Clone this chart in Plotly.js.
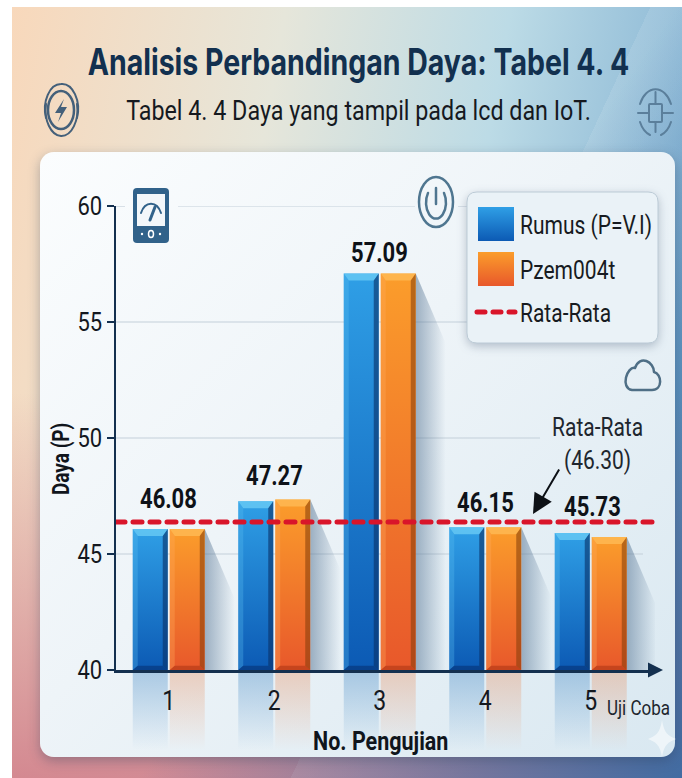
<!DOCTYPE html>
<html><head><meta charset="utf-8">
<script src="https://cdn.plot.ly/plotly-3.0.1.min.js"></script>
<style>
html,body{margin:0;padding:0;background:#fff;width:682px;height:778px;overflow:hidden}
#bg{position:absolute;left:12px;top:7px;width:670px;height:771px;
background:
 linear-gradient(115deg,rgba(255,255,255,0) 62%,rgba(255,255,255,.10) 62%,rgba(255,255,255,0) 80%),
 linear-gradient(180deg,rgba(250,220,190,0) 50%,rgba(205,115,130,.8) 100%) ,
 linear-gradient(100deg,#f8d8bb 0%,#e6e6da 34%,#bcdbe6 62%,#8db9d6 85%,#5f97c0 100%);}
#bg2{position:absolute;left:12px;top:7px;width:670px;height:771px;
background:linear-gradient(125deg,rgba(60,110,170,0) 55%,rgba(45,105,165,.85) 100%)}
#card{position:absolute;left:40px;top:152px;width:635px;height:605px;border-radius:14px;
background:linear-gradient(135deg,#fbfdfe 0%,#eef4f8 45%,#d9e8f1 100%);box-shadow:0 4px 12px rgba(40,60,90,.35)}
#chart{position:absolute;left:0;top:0;width:682px;height:778px}
#deco{position:absolute;left:0;top:0;pointer-events:none}
</style></head><body>
<div id="bg"></div><div id="bg2"></div><div id="card"></div>
<div id="chart"></div>
<svg id="deco" width="682" height="778" fill="none" stroke-linecap="round" stroke-linejoin="round">
 <!-- lightning -->
 <g stroke="#44607a" stroke-width="2.5">
  <ellipse cx="61" cy="110" rx="13" ry="19"/>
  <path d="M46 118 A16 25 0 0 1 61 84 A16 25 0 0 1 77 118" stroke-width="2"/>
  <path d="M46 104 A16 26 0 0 0 61 136 A16 26 0 0 0 77 104" stroke-width="2"/>
 </g>
 <path d="M64 99 L55 113 H61 L58 122 L67 107 H61 Z" fill="#44607a"/>
 <!-- circuit -->
 <g stroke="#5b7f9b" stroke-width="2">
  <path d="M640 104 A17 25 0 0 1 671 104"/><path d="M640 122 A17 25 0 0 0 650 135"/><path d="M671 122 A17 25 0 0 1 661 135"/>
  <rect x="649" y="104" width="13" height="18" rx="1"/>
  <path d="M655.500 92 V104 M655.500 122 V132 M638 113 H649 M662 113 H673"/>
 </g>
 <!-- gauge -->
 <rect x="133" y="188" width="36" height="55" rx="4" fill="#31628a"/>
 <rect x="137" y="194" width="28" height="32" fill="#f3f7fa"/>
 <path d="M141 213 A11 16 0 0 1 161 213" stroke="#31628a" stroke-width="2"/>
 <path d="M150 220 L155 207" stroke="#31628a" stroke-width="3"/>
 <ellipse cx="151" cy="234" rx="2.500" ry="3.500" stroke="#fff" stroke-width="1.500"/>
 <circle cx="142" cy="234" r="1.200" fill="#fff"/><circle cx="160" cy="234" r="1.200" fill="#fff"/>
 <!-- power -->
 <g stroke="#4f7690">
  <ellipse cx="436" cy="202" rx="17" ry="25" stroke-width="2.500"/>
  <path d="M428 193 A10 16 0 1 0 444 193" stroke-width="2.500"/>
  <path d="M436 188 V204" stroke-width="2.500"/>
 </g>
 <!-- cloud -->
 <path d="M632 390 H652 C663 390 662 374 654 372 C654 362 640 354 635 368 C627 366 620 388 632 390 Z" stroke="#4f6f86" stroke-width="2.500"/>
 <!-- sparkle -->
 <path d="M662 720 C664 733 668 736 676 739 C668 742 664 745 662 757 C660 745 656 742 648 739 C656 736 660 733 662 720 Z" fill="rgba(255,255,255,.55)"/>
</svg>
<script>
// ---- data ----
var categories = [1, 2, 3, 4, 5];
var rumus = [46.08, 47.27, 57.09, 46.15, 45.90];
var pzem  = [46.08, 47.35, 57.09, 46.15, 45.73];
var barLabels = ["46.08", "47.27", "57.09", "46.15", "45.73"];
var labelShift = [30, 24, 21, 25, 27];
var meanLevel = 46.38;
var yTicks = [40, 45, 50, 55, 60];
var xTitle = "No. Pengujian", yTitle = "Daya (P)";
var seriesNames = ["Rumus (P=V.I)", "Pzem004t", "Rata-Rata"];
var gridSegments = [[60,116,125],[60,178,415],[60,458,468],[55,116,470],[50,116,540],[45,116,643]];
// ------------------------------------

var W=682,H=778,mL=116,mR=27,mT=206,mB=108;
var xMin=0.5,xMax=0.5+(W-mL-mR)/105.5,baseY=40;
var pxX=1/105.5,pxY=1/23.2,barW=35*pxX,off=18.5*pxX;
function px2x(p){return xMin+(p-mL)*pxX;}
function px2px(p){return (p-mL)/(W-mL-mR);}
function px2py(p){return (H-mB-p)/(H-mT-mB);}
var font='Roboto, sans-serif',ink='#14181f',navy='#14304f';

function faces(vals,dx,kind){
  var X=[],Y=[],i=5*pxX,t=7*pxY;
  vals.forEach(function(v,k){
    var l=categories[k]+dx-barW/2,r=l+barW,pts;
    if(kind==='top')   pts=[[l,v],[r,v],[r-i,v-t],[l+i,v-t]];
    if(kind==='right') pts=[[r,v],[r,baseY],[r-i,baseY+t*.6],[r-i,v-t]];
    if(kind==='left')  pts=[[l,v],[l,baseY],[l+i,baseY+t*.6],[l+i,v-t]];
    if(kind==='bottom')pts=[[l,baseY],[r,baseY],[r-i,baseY+t*.6],[l+i,baseY+t*.6]];
    pts.concat([pts[0]]).forEach(function(p){X.push(p[0]);Y.push(p[1]);});
    X.push(null);Y.push(null);
  });
  return {x:X,y:Y};
}
function faceTrace(vals,dx,kind,color){
  var f=faces(vals,dx,kind);
  return {type:'scatter',mode:'lines',x:f.x,y:f.y,fill:'toself',fillcolor:color,
    line:{width:0,color:color},showlegend:false,hoverinfo:'skip'};
}
var traces=[
 {type:'bar',name:seriesNames[0],x:categories.map(function(c){return c-off;}),y:rumus,width:barW,marker:{color:'#1c7fd0'}},
 {type:'bar',name:seriesNames[1],x:categories.map(function(c){return c+off;}),y:pzem,width:barW,marker:{color:'#f5822a'}},
 faceTrace(rumus,-off,'top','rgba(110,205,245,.75)'),
 faceTrace(rumus,-off,'right','rgba(10,50,105,.62)'),
 faceTrace(rumus,-off,'left','rgba(90,190,240,.32)'),
 faceTrace(rumus,-off,'bottom','rgba(5,45,110,.55)'),
 faceTrace(pzem,off,'top','rgba(255,190,90,.72)'),
 faceTrace(pzem,off,'right','rgba(130,60,10,.55)'),
 faceTrace(pzem,off,'left','rgba(255,170,90,.35)'),
 faceTrace(pzem,off,'bottom','rgba(150,40,10,.42)'),
 {type:'scatter',mode:'lines',name:seriesNames[2],x:[xMin,px2x(652)],y:[meanLevel,meanLevel],
  line:{color:'#d9152a',width:5,dash:'9px,8px'},hoverinfo:'skip'}
];

var shapes=[],gradShapes=[];
gridSegments.forEach(function(g){
  shapes.push({type:'line',layer:'below',xref:'x',yref:'y',x0:px2x(g[1]),x1:px2x(g[2]),y0:g[0],y1:g[0],line:{color:'#c3cfd9',width:1.2}});
});
categories.forEach(function(c,k){
  var r=c+off+barW/2,v=pzem[k];
  shapes.push({type:'path',layer:'between',xref:'x',yref:'y',line:{width:0},fillcolor:'#5a7896',
   path:'M'+r+','+v+' L'+(r+30*pxX)+','+(v-70*pxY)+' L'+(r+30*pxX)+','+baseY+' L'+r+','+baseY+' Z'});
  gradShapes.push([shapes.length-1,'gShadow']);
});
categories.forEach(function(c,k){
  [[-off,'gReflB'],[off,'gReflO']].forEach(function(s){
    var l=c+s[0]-barW/2;
    shapes.push({type:'rect',layer:'below',xref:'x',yref:'paper',x0:l,x1:l+barW,y0:0,y1:px2py(750),line:{width:0},fillcolor:'#888'});
    gradShapes.push([shapes.length-1,s[1]]);
  });
});
shapes.push({type:'rect',layer:'above',xref:'paper',yref:'paper',x0:px2px(467),x1:px2px(658),y0:px2py(343),y1:px2py(192),
  line:{color:'#bccbd6',width:1},fillcolor:'#eaf2f7'});
var panelIndex=shapes.length-1;

var annotations=categories.map(function(c,k){
  return {x:c+(k===4?2*pxX:0),y:Math.max(rumus[k],pzem[k]),xref:'x',yref:'y',text:barLabels[k],showarrow:false,xanchor:'center',yanchor:'middle',yshift:labelShift[k],
    font:{family:font,size:22,color:'#0e1218',weight:700}};
});
function note(x,y,text,f,extra){
  var a={xref:'paper',yref:'paper',x:px2px(x),y:px2py(y),text:text,showarrow:false,xanchor:'center',yanchor:'middle',font:f};
  for(var k in (extra||{}))a[k]=extra[k];
  return a;
}
annotations.push(
 note(597,443,'Rata-Rata<br>(46.30)',{family:font,size:21,color:'#20262e'}),
 {xref:'paper',yref:'paper',x:px2px(533),y:px2py(514),axref:'pixel',ayref:'pixel',ax:27,ay:-46,text:'',showarrow:true,arrowhead:2,arrowsize:2,arrowwidth:2,arrowcolor:'#0d1116'},
 note(638,708,'Uji Coba',{family:font,size:17,color:'#20262e'}),
 {xref:'paper',yref:'paper',x:px2px(663),y:0,axref:'pixel',ayref:'pixel',ax:-14,ay:0,text:'',showarrow:true,arrowhead:2,arrowsize:1,arrowwidth:3,arrowcolor:navy},
 note(358.500,110,'Tabel 4. 4 Daya yang tampil pada lcd dan IoT.',{family:font,size:23.300,color:'#15191f'}),
 note(380,740,'<b>'+xTitle+'</b>',{family:font,size:21.500,color:'#10151c'}),
 note(61,459,'<b>'+yTitle+'</b>',{family:font,size:19,color:'#10151c'},{textangle:-90})
);

var layout={
 width:W,height:H,margin:{l:mL,r:mR,t:mT,b:mB,pad:0},
 paper_bgcolor:'rgba(0,0,0,0)',plot_bgcolor:'rgba(0,0,0,0)',
 barmode:'overlay',showlegend:true,
 title:{text:'<b>Analisis Perbandingan Daya: Tabel 4. 4</b>',x:358.5/W,xanchor:'center',y:1-62/H,yanchor:'middle',
   font:{family:'Inter, sans-serif',size:28.5,color:'#12304f'}},
 xaxis:{range:[xMin,xMax],tickmode:'array',tickvals:categories,ticktext:categories.map(String),ticks:'',ticklabelstandoff:8,
   showgrid:false,zeroline:false,showline:true,linecolor:navy,linewidth:3,
   tickfont:{family:font,size:23,color:ink}},
 yaxis:{range:[baseY,60],tickmode:'array',tickvals:yTicks,ticks:'outside',ticklen:7,tickwidth:2,tickcolor:navy,
   showgrid:false,zeroline:false,showline:true,linecolor:navy,linewidth:2.5,
   tickfont:{family:font,size:22,color:ink}},
 legend:{x:px2px(472),y:px2py(206),xanchor:'left',yanchor:'top',bgcolor:'rgba(0,0,0,0)',borderwidth:0,itemwidth:38,
   font:{family:font,size:21,color:'#171b21'},traceorder:'normal'},
 shapes:shapes,annotations:annotations
};

var NS='http://www.w3.org/2000/svg';
function stops(id,dir,list,user){
  var g='<linearGradient id="'+id+'" '+(user?'gradientUnits="userSpaceOnUse" x1="0" x2="0" y1="'+user[0]+'" y2="'+user[1]+'"':'x1="0" y1="0" x2="'+(dir==='h'?1:0)+'" y2="'+(dir==='h'?0:1)+'"')+'>';
  list.forEach(function(s){g+='<stop offset="'+s[0]+'" stop-color="'+s[1]+'" stop-opacity="'+s[2]+'"/>';});
  return g+'</linearGradient>';
}
// the reference's lettering is taller than it is wide
function stretch(el,k){
  var b=el.getBBox(); if(!b.height)return;
  var old=el.getAttribute('transform')||'';
  var list=el.transform.baseVal,m=list.numberOfItems?list.consolidate().matrix:{b:0,d:1,f:0};
  var cx=b.x+b.width/2,cy=b.y+b.height/2,py=m.b*cx+m.d*cy+m.f;
  el.setAttribute('transform','translate(0,'+py+') scale(1,'+k+') translate(0,'+(-py)+') '+old);
}
var blueStops=[[0,'#2f9fe6',1],[1,'#0c5ab4',1]],orangeStops=[[0,'#fb9d2b',1],[1,'#e8582b',1]];
Plotly.newPlot('chart',traces,layout,{displayModeBar:false,staticPlot:true}).then(function(gd){
  var svg=gd.querySelector('.main-svg');
  var defs=svg.querySelector('defs');
  function addDefs(html){
    var tmp=document.createElementNS(NS,'svg');tmp.innerHTML=html;
    while(tmp.firstChild)defs.appendChild(tmp.firstChild);
  }
  addDefs(stops('gBlue','v',blueStops)+stops('gOrange','v',orangeStops)
    +stops('gShadow','h',[[0,'#5a7896',.55],[1,'#5a7896',0]])
    +stops('gReflB','v',[[0,'#4d8fc8',.42],[1,'#4d8fc8',0]])+stops('gReflO','v',[[0,'#e79a70',.42],[1,'#e79a70',0]]));
  var bars=gd.querySelectorAll('.barlayer .trace');
  var plotH=H-mT-mB;
  [[0,blueStops,'gB'],[1,orangeStops,'gO']].forEach(function(s){
    bars[s[0]].querySelectorAll('.point path').forEach(function(p,i){
      var id=s[2]+i;
      addDefs(stops(id,'v',s[1],[p.getBBox().y,plotH]));
      p.style.fill='url(#'+id+')';
    });
  });
  gradShapes.forEach(function(g){
    gd.querySelectorAll('.shapelayer path[data-index="'+g[0]+'"]').forEach(function(p){p.style.fill='url(#'+g[1]+')';p.style.fillOpacity=1;});
  });
  gd.querySelectorAll('.shapelayer path[data-index="'+panelIndex+'"]').forEach(function(p){
    var b=p.getBBox(),r=10,x=b.x,y=b.y,w=b.width,h=b.height;
    p.setAttribute('d','M'+(x+r)+','+y+'H'+(x+w-r)+'Q'+(x+w)+','+y+' '+(x+w)+','+(y+r)+'V'+(y+h-r)+'Q'+(x+w)+','+(y+h)+' '+(x+w-r)+','+(y+h)+'H'+(x+r)+'Q'+x+','+(y+h)+' '+x+','+(y+h-r)+'V'+(y+r)+'Q'+x+','+y+' '+(x+r)+','+y+'Z');
    p.style.filter='drop-shadow(0 3px 5px rgba(50,70,100,.3))';
  });
  gd.querySelectorAll('.scatterlayer .js-line').forEach(function(l){
    if(l.style.strokeDasharray)l.style.strokeLinecap='round';
  });
  var leg=gd.querySelector('.legend');
  leg.querySelector('.scrollbox').removeAttribute('clip-path');
  var rows=leg.querySelectorAll('.traces');
  var rowY=[6,51,94];
  rows.forEach(function(t,i){
    var m=/translate\(([^,]+),/.exec(t.getAttribute('transform')||'translate(0,0)');
    t.setAttribute('transform','translate('+(m?m[1]:0)+','+(12+rowY[i])+')');
    var sw=t.querySelector('.legendbar path, .legendundefined');
    if(i<2&&sw){
      sw.setAttribute('d','M18,17H-18V-17H18Z');
      sw.style.fill=i===0?'url(#gBlue)':'url(#gOrange)';
      sw.style.strokeWidth=0;
    }
    if(i===2){
      var dl=t.querySelector('.js-line');
      if(dl){dl.style.strokeDasharray='8,8';dl.style.strokeLinecap='round';}
    }
  });
  gd.querySelectorAll('.gtitle').forEach(function(e){stretch(e,1.28);});
  gd.querySelectorAll('.annotation-text').forEach(function(e){stretch(e,1.22);});
  gd.querySelectorAll('.xtick text, .ytick text').forEach(function(e){stretch(e,1.2);});
  gd.querySelectorAll('.legendtext').forEach(function(e){stretch(e,1.2);});
});
</script>
</body></html>
